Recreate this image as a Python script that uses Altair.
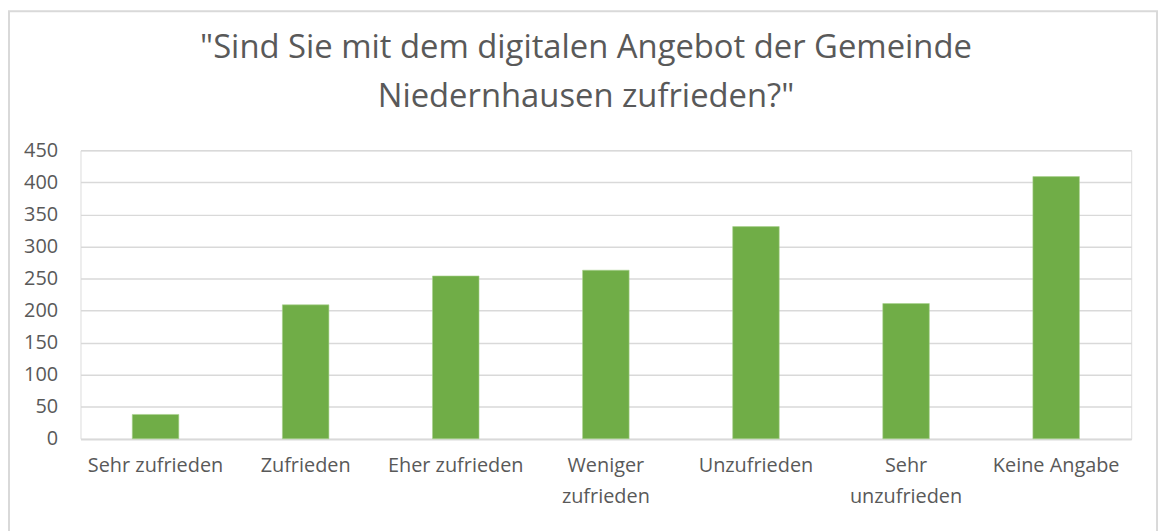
import altair as alt
import pandas as pd

categories = ["Sehr zufrieden", "Zufrieden", "Eher zufrieden", "Weniger zufrieden",
              "Unzufrieden", "Sehr unzufrieden", "Keine Angabe"]
values = [38, 209, 254, 263, 331, 211, 409]
y_ticks = [0, 50, 100, 150, 200, 250, 300, 350, 400, 450]

df = pd.DataFrame({"Kategorie": categories, "Anzahl": values})

FONT = "Open Sans, Lato, sans-serif"
GREY = "#595959"
GRID = "#d9d9d9"

bars = alt.Chart(df).mark_bar(color="#70AD47", stroke="#a9d18e", strokeWidth=0.6).encode(
    x=alt.X("Kategorie:N", sort=categories, title=None,
            scale=alt.Scale(paddingInner=0.69, paddingOuter=0.345),
            axis=alt.Axis(labelAngle=0, ticks=False, domain=True, domainColor=GRID,
                          domainWidth=1.5, labelColor=GREY, labelFontSize=20,
                          labelFont=FONT, labelPadding=17, labelLineHeight=31,
                          labelBaseline="top",
                          labelExpr="datum.label == 'Weniger zufrieden' || datum.label == 'Sehr unzufrieden' ? split(datum.label, ' ') : datum.label")),
    y=alt.Y("Anzahl:Q", title=None,
            scale=alt.Scale(domain=[0, 450], nice=False),
            axis=alt.Axis(values=y_ticks, ticks=False, domain=False, grid=True,
                          gridColor=GRID, gridWidth=1.5, labelColor=GREY,
                          labelFontSize=20, labelFont=FONT, labelPadding=23)),
)

border = alt.Chart(df).mark_rect(fill=None, stroke="#d9d9d9", strokeWidth=2, clip=False).encode(
    x=alt.value(-72), x2=alt.value(1084), y=alt.value(-140), y2=alt.value(420)
).transform_filter("datum.Kategorie == 'Sehr zufrieden'")

chart = alt.layer(border, bars).properties(
    width=1058,
    height=290.5,
    title=alt.TitleParams(
        text=['"Sind Sie mit dem digitalen Angebot der Gemeinde', 'Niedernhausen zufrieden?"'],
        font=FONT, fontSize=33, fontWeight="normal", color=GREY,
        anchor="middle", frame="group", dx=-20, offset=-104, lineHeight=49,
    ),
    padding={"left": 73, "top": 141.5, "right": 30, "bottom": 91},
    autosize=alt.AutoSizeParams(type="none"),
).configure_view(stroke=None).configure(background="white")

chart.save("out.html", embed_options={"renderer": "svg", "actions": False})
